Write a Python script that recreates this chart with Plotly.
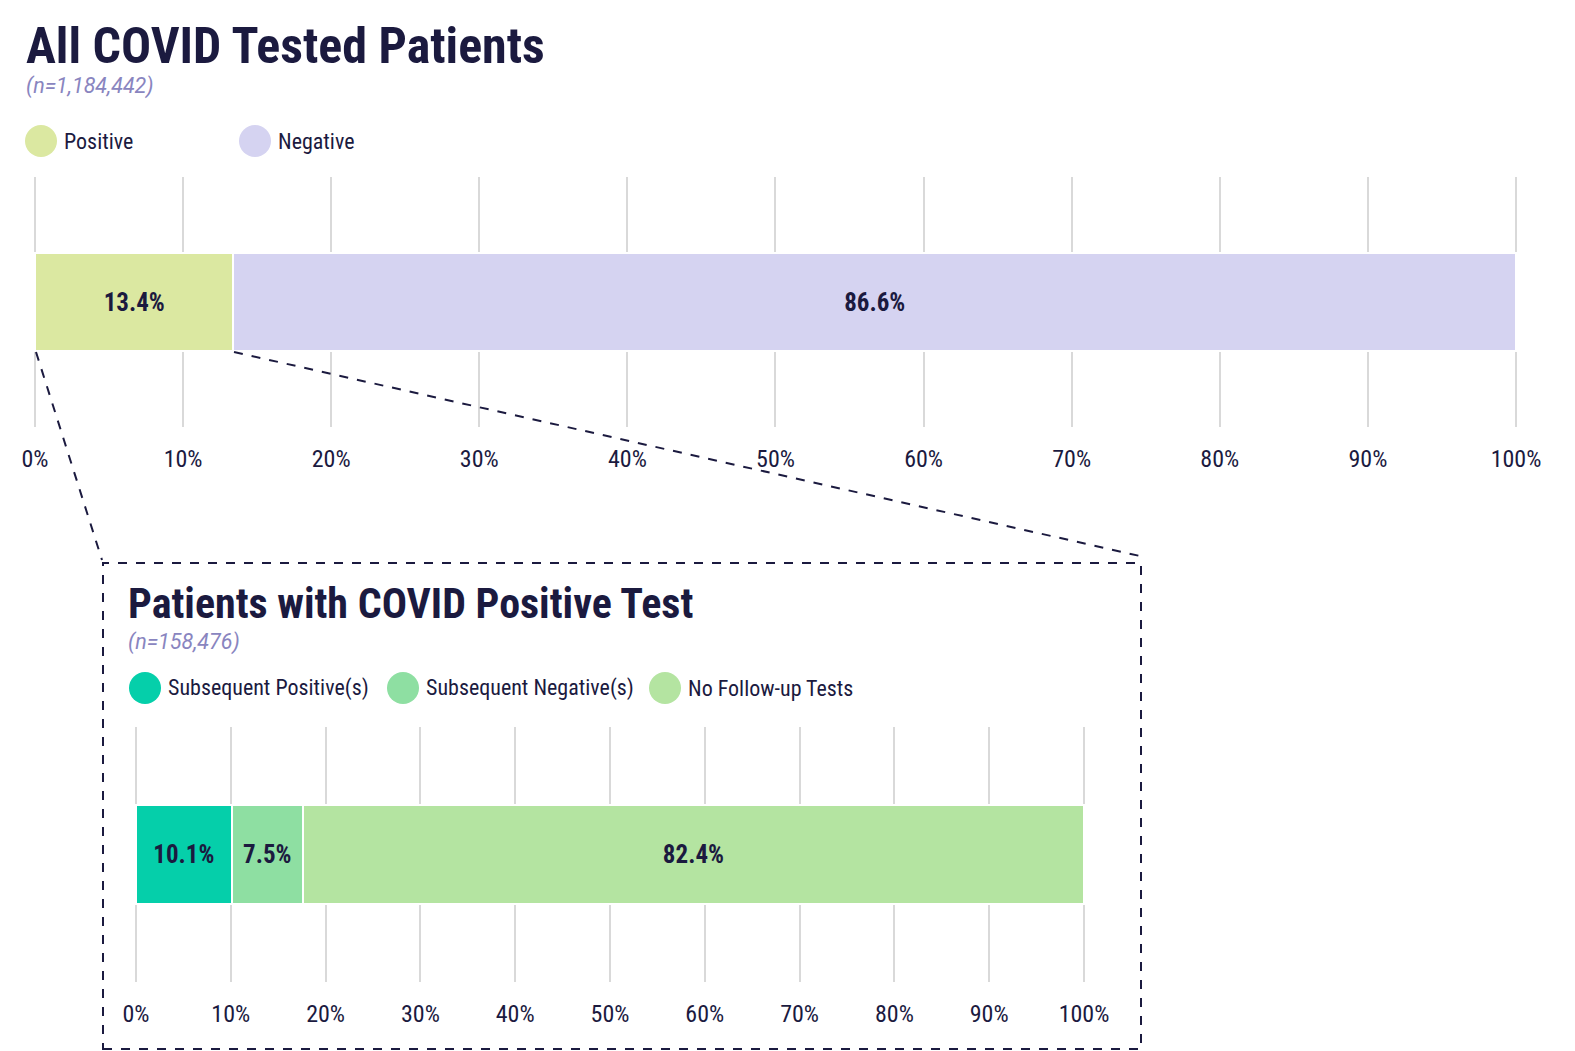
import plotly.graph_objects as go

W, H = 1575, 1051

# ---------------- data ----------------
top_title = "All COVID Tested Patients"
top_n = "(n=1,184,442)"
top_categories = ["Positive", "Negative"]
top_values = [13.4, 86.6]
top_colors = ["#dbe8a1", "#d5d3f1"]

bottom_title = "Patients with COVID Positive Test"
bottom_n = "(n=158,476)"
bottom_categories = ["Subsequent Positive(s)", "Subsequent Negative(s)", "No Follow-up Tests"]
bottom_values = [10.1, 7.5, 82.4]
bottom_colors = ["#05cfaa", "#8edfa2", "#b4e4a1"]

tick_values = [0, 10, 20, 30, 40, 50, 60, 70, 80, 90, 100]
tick_labels = ["0%", "10%", "20%", "30%", "40%", "50%", "60%", "70%", "80%", "90%", "100%"]

# ---------------- style ----------------
FONT = "Roboto Condensed, Liberation Sans Narrow, DejaVu Sans Condensed, Roboto, sans-serif"
SUBFONT = "Roboto, Noto Sans, sans-serif"
NAVY = "#1b1a3f"
SUB = "#8985bf"
GRID = "#d9d9d9"
PAD = 0.3  # small range padding so the 0% and 100% grid lines are drawn


def fx(px):
    return px / W


def fy(py):
    return 1 - py / H


def xdomain(p0, p100):
    per = (p100 - p0) / 100.0
    return [fx(p0 - PAD * per), fx(p100 + PAD * per)]


fig = go.Figure()

for name, val, col in zip(top_categories, top_values, top_colors):
    fig.add_trace(go.Bar(
        x=[val], y=["all"], orientation="h", name=name,
        marker=dict(color=col, line=dict(color="white", width=2)),
        texttemplate="<b>%{x:.1f}%</b>", textposition="inside",
        insidetextanchor="middle", textangle=0,
        textfont=dict(family=FONT, size=25, color=NAVY),
        xaxis="x", yaxis="y", showlegend=False, width=0.39,
    ))

for name, val, col in zip(bottom_categories, bottom_values, bottom_colors):
    fig.add_trace(go.Bar(
        x=[val], y=["pos"], orientation="h", name=name,
        marker=dict(color=col, line=dict(color="white", width=2)),
        texttemplate="<b>%{x:.1f}%</b>", textposition="inside",
        insidetextanchor="middle", textangle=0,
        textfont=dict(family=FONT, size=25, color=NAVY),
        xaxis="x2", yaxis="y2", showlegend=False, width=0.39,
    ))

axis_common = dict(
    range=[-PAD, 100 + PAD], tickvals=tick_values, ticktext=tick_labels,
    showgrid=True, gridcolor=GRID, gridwidth=2, zeroline=False,
    showline=False, ticks="", ticklabelstandoff=15, automargin=False,
    tickfont=dict(family=FONT, size=24, color=NAVY), fixedrange=True,
)

shapes = []
annotations = []

# titles and subtitles
annotations += [
    dict(text="<b>" + top_title + "</b>", x=fx(24), y=fy(46), xref="paper", yref="paper",
         xanchor="left", yanchor="middle", showarrow=False, height=40,
         font=dict(family=FONT, size=50, color=NAVY)),
    dict(text="<i>" + top_n + "</i>", x=fx(24), y=fy(86), xref="paper", yref="paper",
         xanchor="left", yanchor="middle", showarrow=False,
         font=dict(family=SUBFONT, size=21.5, color=SUB)),
    dict(text="<b>" + bottom_title + "</b>", x=fx(126), y=fy(603), xref="paper", yref="paper",
         xanchor="left", yanchor="middle", showarrow=False, height=36,
         font=dict(family=FONT, size=42, color=NAVY)),
    dict(text="<i>" + bottom_n + "</i>", x=fx(126), y=fy(642), xref="paper", yref="paper",
         xanchor="left", yanchor="middle", showarrow=False,
         font=dict(family=SUBFONT, size=21.5, color=SUB)),
]

# custom legends
top_leg_x = [41, 255]
for name, col, cx in zip(top_categories, top_colors, top_leg_x):
    shapes.append(dict(type="circle", xref="paper", yref="paper",
                       xsizemode="pixel", ysizemode="pixel",
                       xanchor=fx(cx), yanchor=fy(141), x0=-16, x1=16, y0=-16, y1=16,
                       fillcolor=col, line=dict(width=0)))
    annotations.append(dict(text=name, x=fx(cx + 21), y=fy(141), xref="paper", yref="paper",
                            xanchor="left", yanchor="middle", showarrow=False,
                            font=dict(family=FONT, size=22, color=NAVY)))

bot_leg_x = [145, 403, 665]
for name, col, cx in zip(bottom_categories, bottom_colors, bot_leg_x):
    shapes.append(dict(type="circle", xref="paper", yref="paper",
                       xsizemode="pixel", ysizemode="pixel",
                       xanchor=fx(cx), yanchor=fy(688), x0=-16, x1=16, y0=-16, y1=16,
                       fillcolor=col, line=dict(width=0)))
    annotations.append(dict(text=name, x=fx(cx + 21), y=fy(688), xref="paper", yref="paper",
                            xanchor="left", yanchor="middle", showarrow=False,
                            font=dict(family=FONT, size=22, color=NAVY)))

# dashed zoom box and connectors
dash = dict(color=NAVY, width=2, dash="dash")
shapes.append(dict(type="rect", xref="paper", yref="paper",
                   x0=fx(103), x1=fx(1141), y0=fy(1049), y1=fy(563),
                   line=dash, fillcolor="rgba(0,0,0,0)"))
shapes.append(dict(type="line", xref="paper", yref="paper",
                   x0=fx(36), y0=fy(352), x1=fx(102), y1=fy(560), line=dash))
shapes.append(dict(type="line", xref="paper", yref="paper",
                   x0=fx(234), y0=fy(352), x1=fx(1140), y1=fy(556), line=dash))

fig.update_layout(
    width=W, height=H, margin=dict(l=0, r=0, t=0, b=0, autoexpand=False),
    paper_bgcolor="white", plot_bgcolor="white",
    barmode="stack", showlegend=False,
    font=dict(family=FONT, color=NAVY),
    xaxis=dict(domain=xdomain(35, 1516), anchor="y", **axis_common),
    yaxis=dict(domain=[fy(427), fy(177)], anchor="x", showticklabels=False,
               showgrid=False, zeroline=False, fixedrange=True, automargin=False),
    xaxis2=dict(domain=xdomain(136, 1084), anchor="y2", **axis_common),
    yaxis2=dict(domain=[fy(982), fy(727)], anchor="x2", showticklabels=False,
                showgrid=False, zeroline=False, fixedrange=True, automargin=False),
    shapes=shapes, annotations=annotations,
)

fig.write_html("out.html")
